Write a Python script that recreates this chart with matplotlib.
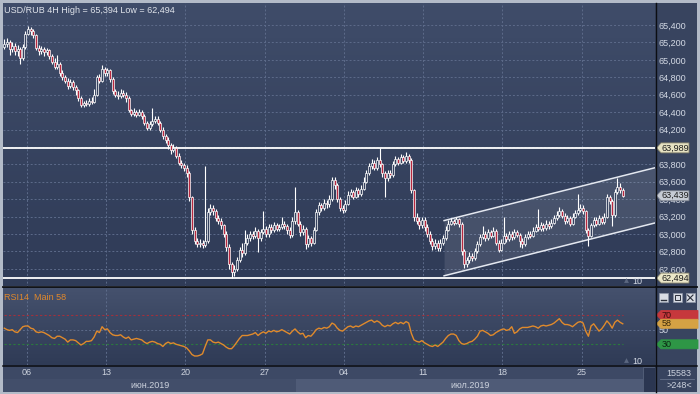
import numpy as np
import matplotlib
matplotlib.use('Agg')
import matplotlib.pyplot as plt
import matplotlib.transforms as mtransforms
from matplotlib.patches import Rectangle, Polygon
from matplotlib.colors import LinearSegmentedColormap

plt.rcParams['font.family'] = ['Liberation Sans', 'DejaVu Sans']

# ---- USD/RUB 4H bars, prices in 1/1000 RUB ----
first_open = 65150
closes = [65180, 65210, 65120, 65160, 65100, 65130, 65020, 65150, 65300, 65360,
          65330, 65280, 65140, 65100, 65120, 65090, 65110, 65050, 64980, 64920,
          64950, 64850, 64800, 64760, 64700, 64740, 64690, 64650, 64560, 64480,
          64500, 64490, 64530, 64520, 64600, 64800, 64760, 64900, 64850, 64880,
          64780, 64640, 64600, 64580, 64620, 64600, 64560, 64420, 64380, 64400,
          64370, 64400, 64360, 64280, 64220, 64260, 64300, 64320, 64280, 64200,
          64120, 64080, 64020, 63960, 63990, 63900, 63820, 63790, 63760, 63700,
          63420, 63050, 62920, 62880, 62900, 62870, 62920, 63250, 63300, 63260,
          63180, 63150, 63100, 63000, 62850, 62650, 62560, 62600, 62700, 62820,
          62780, 62900, 62950, 63000, 62980, 63040, 62950, 63020, 63060, 63000,
          63080, 63050, 63100, 63060, 63080, 63120, 63090, 63050, 62990, 63150,
          63250, 63120, 63020, 63060, 62880, 62950, 62900, 63050, 63250, 63330,
          63300, 63360, 63340, 63400, 63620, 63560, 63400, 63300, 63280, 63350,
          63450, 63480, 63430, 63500, 63460, 63520, 63600, 63700, 63780, 63820,
          63760, 63850, 63800, 63700, 63640, 63700, 63680, 63800, 63860, 63820,
          63880, 63840, 63900, 63850, 63500, 63200, 63150, 63100, 63160, 63080,
          63000, 62920, 62860, 62900, 62840, 62900, 62950, 63050, 63120, 63150,
          63130, 63170, 63120, 62800, 62650, 62700, 62750, 62720, 62800, 62880,
          62960, 63000, 62950, 63020, 62980, 63040, 62900, 62820, 62900, 62980,
          62940, 63000, 62960, 63020, 62990, 62920, 62880, 62960, 63000, 62980,
          63040, 63080, 63060, 63100, 63070, 63120, 63090, 63130, 63180, 63220,
          63260, 63210, 63150, 63180, 63120, 63200, 63240, 63280, 63300, 63260,
          63050, 62980, 63100, 63160, 63120, 63180, 63140, 63200, 63420, 63380,
          63220, 63480, 63540, 63500, 63439]
highs = [65240, 65250, 65230, 65200, 65190, 65170, 65150, 65180, 65330, 65394,
         65380, 65350, 65300, 65170, 65160, 65150, 65140, 65130, 65070, 65020,
         65060, 64980, 64880, 64830, 64790, 64780, 64770, 64710, 64670, 64590,
         64530, 64540, 64560, 64570, 64660, 64830, 64840, 64943, 64920, 64910,
         64900, 64800, 64670, 64640, 64660, 64650, 64630, 64580, 64440, 64450,
         64420, 64430, 64420, 64380, 64300, 64300, 64450, 64360, 64350, 64300,
         64230, 64150, 64110, 64050, 64030, 64010, 63930, 63850, 63820, 63790,
         63720, 63440, 63080, 62950, 62940, 62930, 63777, 63300, 63340, 63330,
         63290, 63220, 63180, 63120, 63030, 62880, 62680, 62640, 62740, 62850,
         62900, 63050, 63000, 63040, 63030, 63080, 63060, 63060, 63260, 63090,
         63110, 63110, 63140, 63130, 63120, 63200, 63150, 63120, 63080, 63190,
         63537, 63280, 63150, 63100, 63080, 62990, 62980, 63080, 63290, 63370,
         63360, 63400, 63390, 63450, 63660, 63650, 63580, 63420, 63330, 63390,
         63490, 63520, 63510, 63540, 63530, 63560, 63650, 63740, 63820, 63860,
         63850, 63890, 63989, 63820, 63720, 63740, 63730, 63840, 63900, 63880,
         63920, 63910, 63937, 63920, 63870, 63520, 63240, 63190, 63200, 63190,
         63110, 63030, 62950, 62940, 62930, 62940, 62990, 63090, 63160, 63180,
         63170, 63190, 63180, 63140, 62830, 62740, 62790, 62780, 62840, 62920,
         63000, 63090, 63030, 63060, 63050, 63080, 63060, 62930, 62940, 63200,
         63010, 63040, 63030, 63060, 63050, 63010, 62950, 63000, 63040, 63030,
         63080, 63120, 63286, 63140, 63130, 63160, 63150, 63170, 63220, 63260,
         63310, 63290, 63240, 63220, 63210, 63240, 63280, 63460, 63340, 63330,
         63280, 63070, 63130, 63200, 63190, 63220, 63210, 63240, 63460, 63450,
         63400, 63520, 63640, 63580, 63530]
lows = [65120, 65150, 65060, 65090, 65060, 65040, 64950, 65000, 65120, 65280,
        65290, 65250, 65110, 65060, 65070, 65050, 65060, 65010, 64950, 64890,
        64900, 64820, 64770, 64730, 64660, 64680, 64650, 64600, 64530, 64460,
        64460, 64470, 64470, 64490, 64500, 64580, 64730, 64740, 64810, 64820,
        64750, 64610, 64570, 64550, 64560, 64570, 64520, 64400, 64350, 64360,
        64340, 64350, 64320, 64250, 64190, 64200, 64240, 64280, 64250, 64170,
        64090, 64040, 63980, 63920, 63940, 63870, 63790, 63760, 63720, 63650,
        63380, 63000, 62880, 62850, 62850, 62840, 62850, 62900, 63220, 63220,
        63150, 63110, 63060, 62960, 62800, 62600, 62494, 62520, 62570, 62680,
        62740, 62760, 62870, 62920, 62940, 62950, 62790, 62920, 63000, 62960,
        62970, 63010, 63020, 63030, 63040, 63060, 63060, 63000, 62950, 62970,
        63120, 63090, 62980, 62990, 62829, 62850, 62860, 62880, 63030, 63220,
        63260, 63280, 63300, 63310, 63380, 63520, 63370, 63260, 63240, 63250,
        63330, 63420, 63400, 63410, 63430, 63440, 63500, 63580, 63680, 63750,
        63730, 63740, 63770, 63660, 63423, 63610, 63640, 63660, 63780, 63790,
        63800, 63810, 63820, 63810, 63470, 63150, 63110, 63060, 63070, 63040,
        62960, 62880, 62820, 62830, 62800, 62810, 62870, 62930, 63030, 63100,
        63100, 63110, 63080, 62760, 62610, 62620, 62670, 62690, 62700, 62780,
        62860, 62940, 62920, 62930, 62950, 62960, 62870, 62794, 62800, 62880,
        62910, 62920, 62930, 62940, 62960, 62852, 62840, 62860, 62940, 62950,
        62960, 63020, 63030, 63040, 63040, 63050, 63060, 63070, 63110, 63160,
        63200, 63180, 63120, 63130, 63090, 63100, 63180, 63220, 63250, 63230,
        63010, 62863, 62960, 63080, 63090, 63100, 63110, 63120, 63180, 63340,
        63090, 63200, 63460, 63470, 63420]

# RSI(14), one value per bar
rsi = [52, 50, 49, 50, 47, 46, 50, 54, 55, 55, 52, 51, 47, 46, 47, 46, 44, 42, 39, 38,
       41, 41, 39, 37, 33, 36, 36, 35, 32, 29, 31, 34, 34, 35, 40, 48, 46, 54, 50, 51,
       46, 43, 42, 42, 43, 40, 38, 40, 36, 37, 38, 37, 36, 33, 31, 33, 34, 33, 31, 30,
       27, 31, 33, 31, 32, 30, 29, 28, 27, 25, 21, 16, 14, 14, 15, 17, 27, 36, 36, 33,
       32, 33, 31, 29, 26, 24, 24, 28, 33, 38, 42, 42, 42, 43, 44, 46, 42, 45, 47, 45,
       48, 47, 49, 47, 48, 50, 48, 46, 44, 48, 51, 47, 44, 45, 39, 42, 41, 45, 50, 52,
       51, 53, 52, 54, 59, 57, 52, 49, 48, 51, 54, 55, 53, 55, 54, 56, 58, 60, 62, 63,
       60, 62, 60, 56, 54, 56, 55, 58, 60, 58, 60, 58, 61, 59, 45, 36, 34, 33, 35, 32,
       30, 28, 27, 29, 27, 30, 33, 38, 42, 44, 44, 42, 35, 31, 30, 31, 33, 34, 37, 41,
       48, 49, 47, 45, 42, 43, 46, 48, 50, 51, 49, 50, 54, 45, 47, 51, 53, 53, 53, 54,
       55, 54, 52, 55, 56, 55, 56, 57, 59, 62, 65, 60, 57, 57, 56, 54, 57, 60, 61, 59,
       48, 41, 55, 58, 53, 48, 51, 56, 62, 58, 52, 60, 63, 60, 58]
rsi_last = 58

price_ticks = [62.6, 62.8, 63.0, 63.2, 63.4, 63.6, 63.8, 64.0, 64.2, 64.4,
               64.6, 64.8, 65.0, 65.2, 65.4]
hidden_tick_labels = [64.0]          # covered by the 63,989 tag
hline_prices = [63.989, 62.494]
last_price = 63.439

date_labels = ['06', '13', '20', '27', '04', '11', '18', '25']
first_week_bar = 8.5
bars_per_week = 30
month_labels = ['июн.2019', 'июл.2019']
july_start_bar = 110.5

chan_x = [166.4, 260.0]
chan_top = [63.154, 63.866]
chan_bot = [62.520, 63.232]

# ---- layout in pixels ----
W, H = 700, 394
fig = plt.figure(figsize=(7, 3.94), dpi=100)
fig.patch.set_facecolor('#b3bbc8')


def rect(x0, y0, x1, y1):
    return [x0 / W, 1 - y1 / H, (x1 - x0) / W, (y1 - y0) / H]


def grad_bg(ax, top, bottom):
    cm = LinearSegmentedColormap.from_list('g', [bottom, top])
    ax.imshow(np.linspace(0, 1, 64).reshape(-1, 1), cmap=cm, origin='lower',
              extent=[0, 1, 0, 1], transform=ax.transAxes, aspect='auto', zorder=0)


bg = fig.add_axes(rect(3, 3, 697, 392))
bg.set_facecolor('#38445f')
bg.set_xticks([]); bg.set_yticks([])
for s in bg.spines.values():
    s.set_visible(False)

ax = fig.add_axes(rect(3, 3, 655, 286.5))
ax_rsi = fig.add_axes(rect(3, 288, 655, 365))
ax_d = fig.add_axes(rect(3, 366.5, 655, 392))

grad_bg(ax, '#3f4c69', '#2f3b57')
grad_bg(ax_rsi, '#45516d', '#2f3b56')

n = len(closes)
x = np.arange(n)
c = np.array(closes) / 1000
o = np.concatenate([[first_open / 1000], c[:-1]])
h = np.array(highs) / 1000
lo = np.array(lows) / 1000
xlim = (-0.49, 246.2)
week_pos = [first_week_bar + bars_per_week * k for k in range(len(date_labels))]
grid_kw = dict(color='#5d6b8a', lw=0.7, ls=(0, (2, 2)))

# ---- main price panel ----
for p in price_ticks:
    ax.axhline(p, zorder=1, **grid_kw)
for wp in week_pos:
    ax.axvline(wp, zorder=1, **grid_kw)

ax.fill_between(chan_x, chan_bot, chan_top, color='white', alpha=0.1, lw=0, zorder=1.5)
ax.plot(chan_x, chan_top, color='#e4e8f0', lw=1.1, zorder=2)
ax.plot(chan_x, chan_bot, color='#e4e8f0', lw=1.1, zorder=2)
for hp in hline_prices:
    ax.axhline(hp, color='white', lw=1.3, zorder=2)

up = c >= o
ax.vlines(x, lo, h, color='white', lw=0.8, zorder=3)
ax.bar(x, np.maximum(np.abs(c - o), 0.004), bottom=np.minimum(o, c), width=0.75,
       color=np.where(up, '#36425f', '#b8283f'), edgecolor='white', linewidth=0.5, zorder=4)

ax.set_xlim(*xlim)
ax.set_ylim(62.397, 65.653)
ax.set_xticks([])
ax.yaxis.tick_right()
ax.set_yticks(price_ticks)
ax.set_yticklabels(['' if p in hidden_tick_labels else f'{p:.3f}'.replace('.', ',')
                    for p in price_ticks])
ax.tick_params(axis='y', length=0, pad=2.4, labelsize=6.5, labelcolor='#d3d9e4')
for s in ax.spines.values():
    s.set_visible(False)

# ---- RSI panel ----
ax_rsi.axhline(50, zorder=1, **grid_kw)
for wp in week_pos:
    ax_rsi.axvline(wp, zorder=1, **grid_kw)
ax_rsi.plot([0, n - 1], [70, 70], color='#a3303c', lw=0.8, ls=(0, (2, 2)), zorder=1)
ax_rsi.plot([0, n - 1], [30, 30], color='#2b7a3d', lw=0.8, ls=(0, (2, 2)), zorder=1)
ax_rsi.plot(x, rsi, color='#e08a2c', lw=1.0, zorder=3)
ax_rsi.set_xlim(*xlim)
ax_rsi.set_ylim(1.7, 106.9)
ax_rsi.set_xticks([])
ax_rsi.yaxis.tick_right()
ax_rsi.set_yticks([50])
ax_rsi.set_yticklabels(['50'])
ax_rsi.tick_params(axis='y', length=0, pad=2.4, labelsize=6.5, labelcolor='#d3d9e4')
for s in ax_rsi.spines.values():
    s.set_visible(False)

# ---- date strip ----
ax_d.set_xlim(*xlim)
ax_d.set_ylim(0, 1)
ax_d.axis('off')
ax_d.add_patch(Rectangle((0, 0), 1, 1, transform=ax_d.transAxes, fc='#3d4965', ec='none', zorder=0))
scroll_bar = (643 - 4.3) / 2.643
ax_d.add_patch(Rectangle((xlim[0], 0), july_start_bar - xlim[0], 0.5, fc='#424e6a', ec='none', zorder=1))
ax_d.add_patch(Rectangle((july_start_bar, 0), scroll_bar - july_start_bar, 0.5, fc='#4f5b77', ec='none', zorder=1))
ax_d.add_patch(Rectangle((scroll_bar, 0), xlim[1] - scroll_bar, 1, fc='#2b3651', ec='#56627c', lw=0.6, zorder=1))
for wp, lab in zip(week_pos, date_labels):
    ax_d.text(wp, 0.76, lab, ha='center', va='center', fontsize=6.5, color='#cdd3de')
ax_d.text((xlim[0] + july_start_bar) / 2, 0.27, month_labels[0], ha='center', va='center',
          fontsize=6.5, color='#cdd3de')
ax_d.text((july_start_bar + scroll_bar) / 2, 0.27, month_labels[1], ha='center', va='center',
          fontsize=6.5, color='#cdd3de')


# ---- right-hand tags ----
def tag(a, y, s, fc, ec, px_per_unit, x1=689, half=5.0, tc='#1c1c1c'):
    tr = mtransforms.blended_transform_factory(a.transAxes, a.transData)
    fx = lambda px: (px - 3) / 652
    dy = half / px_per_unit
    pts = [(fx(656.5), y), (fx(661), y + dy), (fx(x1), y + dy), (fx(x1), y - dy), (fx(661), y - dy)]
    a.add_patch(Polygon(pts, closed=True, transform=tr, fc=fc, ec=ec, lw=0.6,
                        clip_on=False, zorder=8))
    a.text(fx(661.5), y, s, transform=tr, ha='left', va='center', fontsize=6.5,
           color=tc, clip_on=False, zorder=9)


px_price = 86.9
px_rsi = 0.7325
tag(ax, hline_prices[0], '63,989', '#e6e2c2', '#7e7b67', px_price)
tag(ax, last_price, '63,439', '#c6cbd4', '#7b818d', px_price)
tag(ax, hline_prices[1], '62,494', '#ebe7c8', '#7e7b67', px_price)
tag(ax_rsi, 70, '70', '#c6383c', '#c6383c', px_rsi, x1=698, half=4.5, tc='#3a0d0d')
tag(ax_rsi, rsi_last, str(rsi_last), '#d5a244', '#d5a244', px_rsi, x1=698, half=4.5, tc='#3a2a0a')
tag(ax_rsi, 30, '30', '#2e9646', '#2e9646', px_rsi, x1=698, half=4.5, tc='#0b2a12')

# ---- overlay chrome in pixel coordinates ----
ov = fig.add_axes([0, 0, 1, 1], zorder=10)
ov.set_xlim(0, W)
ov.set_ylim(H, 0)
ov.axis('off')
ov.patch.set_alpha(0)

ov.plot([3, 697], [287.2, 287.2], color='#0c0e13', lw=1.3)
ov.plot([3, 697], [365.7, 365.7], color='#0c0e13', lw=1.1)
ov.plot([655.6, 655.6], [3, 392], color='#0c0e13', lw=1.0)

ov.text(4, 10, 'USD/RUB 4H High = 65,394 Low = 62,494', fontsize=6.5,
        color='#e0e4eb', va='center', ha='left')
ov.text(4, 297, f'RSI14  Main {rsi_last}', fontsize=6.5, color='#e0882c', va='center', ha='left')
for yy in (281.7, 361):
    ov.text(637.5, yy, '10', fontsize=6.5, color='#d3d9e4', ha='center', va='center')
    ov.plot(625.5, yy - 1.5, marker='^', ms=3.5, color='#5b6780', mec='none')

# window buttons
for bx0, bx1 in [(659, 668), (673, 682), (685.5, 695)]:
    ov.add_patch(Rectangle((bx0, 293), bx1 - bx0, 9, fc='#d8dce4', ec='#8e97a7', lw=0.5))
ov.plot([661, 666], [300, 300], color='#2a2f3a', lw=1.0)
ov.add_patch(Rectangle((675, 295), 5, 5, fc='none', ec='#2a2f3a', lw=0.7))
ov.plot([687.5, 693], [295, 300.5], color='#2a2f3a', lw=0.8)
ov.plot([687.5, 693], [300.5, 295], color='#2a2f3a', lw=0.8)

# bottom-right counters
ov.text(679, 373, '15583', fontsize=6.5, color='#cdd3de', ha='center', va='center')
ov.plot([660, 694], [379.3, 379.3], color='#66728b', lw=0.6)
ov.text(679, 385, '>248<', fontsize=6.5, color='#cdd3de', ha='center', va='center')

fig.savefig('out.png', dpi=100, facecolor=fig.get_facecolor())
